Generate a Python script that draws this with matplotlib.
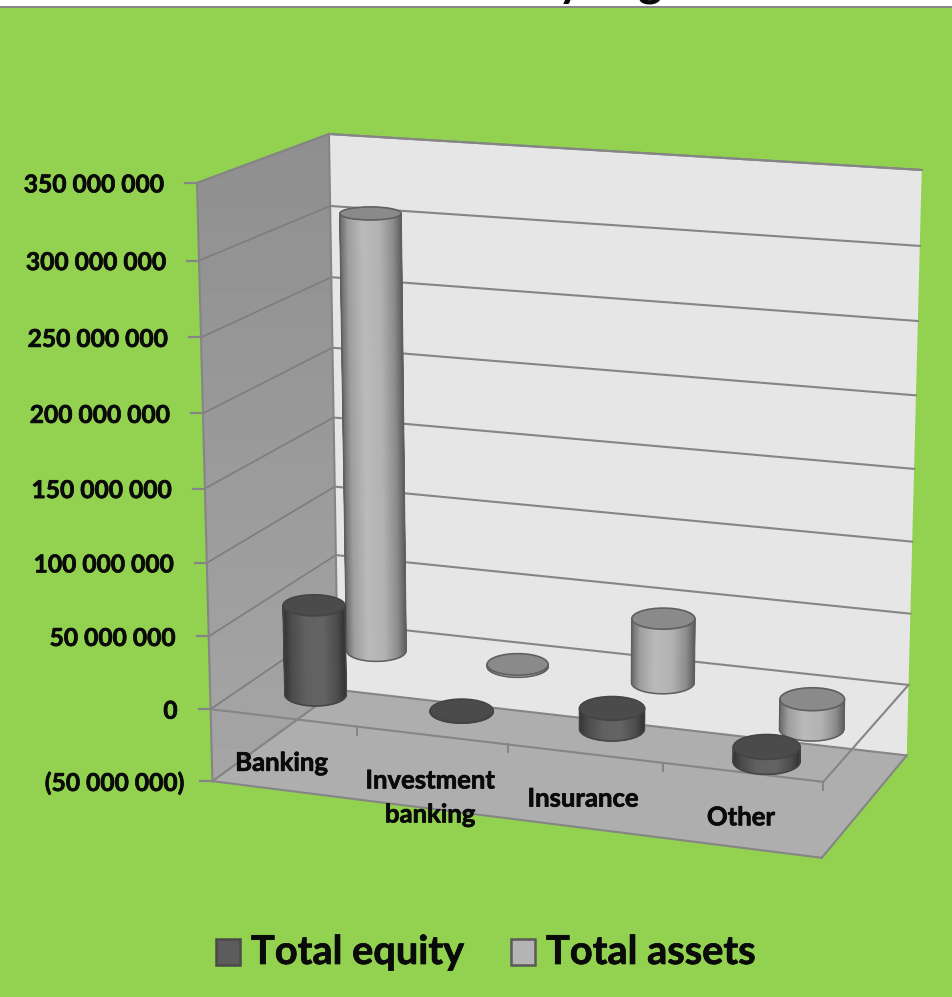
import numpy as np
import matplotlib
matplotlib.use("Agg")
import matplotlib.pyplot as plt
import matplotlib.patheffects as pe
from matplotlib.collections import PolyCollection
from matplotlib.patches import Ellipse, Polygon, Rectangle

categories = ["Banking", "Investment\nbanking", "Insurance", "Other"]
total_equity = [62_000_000, 500_000, 14_000_000, -10_000_000]
total_assets = [307_000_000, 1_500_000, 45_000_000, -21_000_000]
value_ticks = list(range(-50_000_000, 350_000_001, 50_000_000))

W, H = 953, 997
GREEN = "#92d250"
GRID = "#858585"
FONT = "Lato"
BOLDER = [pe.withStroke(linewidth=0.5, foreground="#0a0a0a")]

# box corners (category, depth, value in millions) -> canvas pixels
BOX_POINTS = [
    (0, 0, -50, 213, 781), (0, 0, 0, 210, 709), (0, 0, 350, 197, 183),
    (4, 0, -50, 823, 858), (4, 0, 0, 822, 782),
    (0, 1, -50, 338, 691), (0, 1, 0, 337, 622), (0, 1, 350, 329, 134),
    (4, 1, -50, 907, 755), (4, 1, 0, 908, 685), (4, 1, 350, 922, 170),
]


def fit_camera(points):
    """Least squares 3x4 projection matrix from point pairs."""
    rows = []
    for x, y, z, u, v in points:
        p = [x, y, z / 100, 1]
        rows.append(p + [0, 0, 0, 0] + [-u * c for c in p])
        rows.append([0, 0, 0, 0] + p + [-v * c for c in p])
    return np.linalg.svd(np.array(rows, float))[2][-1].reshape(3, 4)


CAM = fit_camera(BOX_POINTS)


def proj(x, y, value):
    h = CAM @ np.array([x, y, value / 1e8, 1.0])
    return h[:2] / h[2]


def draw_cylinder(ax, xc, depth, value, top_col, edge_col, shades):
    rx, ry = 0.213, 0.125
    # negative values hang below the zero plane
    v_top, v_base = max(value, 0), min(value, 0)
    top = proj(xc, depth, v_top)
    base = proj(xc, depth, v_base)

    def radii(v):
        a = (proj(xc + rx, depth, v) - proj(xc - rx, depth, v))[0] / 2
        b = (proj(xc, depth - ry, v) - proj(xc, depth + ry, v))[1] / 2
        return a, b

    at, bt = radii(v_top)
    ab, bb = radii(v_base)
    # side wall as thin vertical strips, shaded across the width
    ts = np.linspace(np.pi, 0, 90)
    strips, colors = [], []
    for t0, t1 in zip(ts[:-1], ts[1:]):
        strips.append([
            top + [at * np.cos(t0), bt * np.sin(t0)],
            top + [at * np.cos(t1), bt * np.sin(t1)],
            base + [ab * np.cos(t1), bb * np.sin(t1)],
            base + [ab * np.cos(t0), bb * np.sin(t0)],
        ])
        g = np.interp(np.cos((t0 + t1) / 2), [-1, -0.72, -0.25, 0.3, 0.75, 1], shades)
        colors.append((g, g, g))
    ax.add_collection(PolyCollection(strips, facecolors=colors, edgecolors=colors,
                                     linewidths=0.6, zorder=3))
    # outline of the side wall
    arc = np.linspace(np.pi, 0, 60)
    xs = np.r_[top[0] - at, base[0] + ab * np.cos(arc), top[0] + at]
    ys = np.r_[top[1], base[1] + bb * np.sin(arc), top[1]]
    ax.plot(xs, ys, color=edge_col, lw=1.1, solid_joinstyle="round", zorder=3)
    ax.add_patch(Ellipse(top, 2 * at, 2 * bt, facecolor=top_col, edgecolor=edge_col, lw=1.2, zorder=3))


fig = plt.figure(figsize=(W / 100, H / 100), dpi=100, facecolor=GREEN)
ax = fig.add_axes([0, 0, 1, 1])
ax.axis("off")

low, high = value_ticks[0], value_ticks[-1]
fl, fr = proj(0, 0, low), proj(4, 0, low)
bl, br = proj(0, 1, low), proj(4, 1, low)
tfl, tbl, tbr = proj(0, 0, high), proj(0, 1, high), proj(4, 1, high)

# walls and floor
ax.add_patch(Polygon([tbl, tbr, br, bl], facecolor="#e6e6e6", edgecolor="none", zorder=1))
side = Polygon([tfl, tbl, bl, fl], facecolor="none", edgecolor="none", zorder=1)
ax.add_patch(side)
shade = ax.imshow(np.linspace(0.56, 0.65, 64)[:, None], cmap="gray", vmin=0, vmax=1,
                  extent=[190, 345, 790, 130], aspect="auto", zorder=1)
shade.set_clip_path(side)
ax.add_patch(Polygon([fl, fr, br, bl], facecolor="#aeaeae", edgecolor="none", zorder=1.5))

# gridlines on both walls with the value ticks and labels
for v in value_ticks:
    f, b, r = proj(0, 0, v), proj(0, 1, v), proj(4, 1, v)
    ax.plot([f[0], b[0]], [f[1], b[1]], color="#7d7d7d", lw=1.2, zorder=2)
    ax.plot([b[0], r[0]], [b[1], r[1]], color=GRID, lw=1.5, zorder=2)
    ax.plot([f[0] - 12, f[0]], [f[1], f[1]], color=GRID, lw=1.6, zorder=2)
    text = f"{abs(v):,}".replace(",", " ")
    shift = 33
    if v < 0:
        text = f"({text})"
        shift = 28
    ax.text(f[0] - shift, f[1] + 2, text, ha="right", va="center", family=FONT,
            fontweight="bold", fontsize=17.7, color="#0a0a0a", zorder=6, path_effects=BOLDER)

# outer edges of the box
for a, b in [(tfl, tbl), (tbl, tbr), (tfl, fl), (tbl, bl), (fl, fr), (fr, br), (fl, bl)]:
    ax.plot([a[0], b[0]], [a[1], b[1]], color=GRID, lw=1.5, zorder=2.5)

# category axis lying on the zero plane
z0 = [proj(0, 0, 0), proj(4, 0, 0), proj(4, 1, 0)]
ax.plot(*zip(*z0), color=GRID, lw=1.5, zorder=2.5)
for i in range(1, len(categories) + 1):
    t = proj(i, 0, 0)
    ax.plot([t[0], t[0]], [t[1], t[1] + 8], color=GRID, lw=1.4, zorder=2.5)

for i, name in enumerate(categories):
    p = proj(i + 0.5, 0, 0)
    ax.text(p[0] - 1.5, p[1] + 33, name, ha="center", va="top", family=FONT, fontweight="bold",
            fontsize=18.5, color="#0a0a0a", linespacing=1.5, zorder=6, path_effects=BOLDER)

# back row first so the front row overlaps it
asset_shades = [0.40, 0.62, 0.73, 0.70, 0.55, 0.38]
equity_shades = [0.20, 0.30, 0.38, 0.39, 0.30, 0.20]
for i, v in enumerate(total_assets):
    draw_cylinder(ax, i + 0.5, 0.75, v, "#8a8a8a", "#5f5f5f", asset_shades)
for i, v in enumerate(total_equity):
    draw_cylinder(ax, i + 0.5, 0.25, v, "#4b4b4b", "#444444", equity_shades)

# legend
for x0, col, edge, label in [(216, "#5c5c5c", "#4a4a4a", "Total equity"),
                             (511, "#b4b4b4", "#5a5a5a", "Total assets")]:
    ax.add_patch(Rectangle((x0, 939), 24, 26, facecolor=col, edgecolor=edge, lw=1.8, zorder=6))
    ax.text(x0 + 35, 964, label, ha="left", va="baseline", family=FONT, fontweight="bold",
            fontsize=28.6, color="#0a0a0a", zorder=6, path_effects=BOLDER)

# strip above the plot area carrying the title
ax.add_patch(Rectangle((0, 0), W, 6, facecolor="white", edgecolor="none", zorder=7))
ax.add_patch(Rectangle((0, 6), W, 2.2, facecolor="#868686", edgecolor="none", zorder=7))
ax.text(650, -5, "by segment", ha="center", va="baseline", family=FONT, fontweight="bold",
        fontsize=33, color="#0a0a0a", zorder=8)

ax.set_xlim(0, W)
ax.set_ylim(H, 0)
fig.savefig("out.png", dpi=100, facecolor=GREEN)
